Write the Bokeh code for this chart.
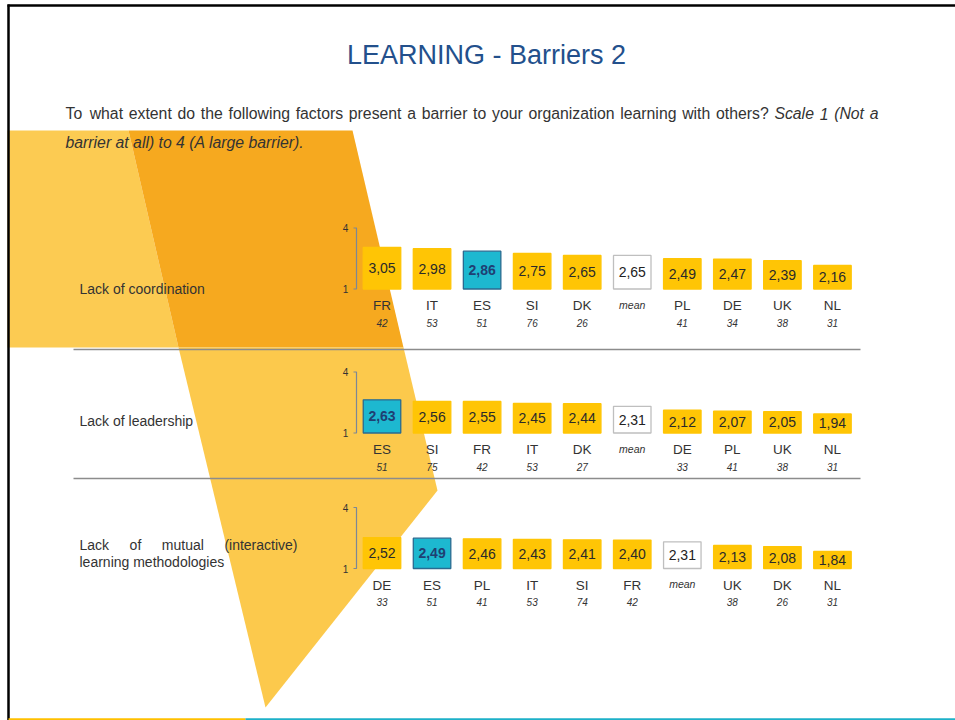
from bokeh.plotting import figure
from bokeh.models import Range1d, ColumnDataSource
from bokeh.embed import file_html
from bokeh.resources import INLINE
from bokeh.core.properties import value

# ---------------- data ----------------
title_text = "LEARNING - Barriers 2"
question_text = "To what extent do the following factors present a barrier to your organization learning with others?"
scale_note_1 = "Scale 1 (Not a"
scale_note_2 = "barrier at all) to 4 (A large barrier)."

factors = ["Lack of coordination", "Lack of leadership",
           "Lack of mutual (interactive) learning methodologies"]

coord_countries = ["FR", "IT", "ES", "SI", "DK", "mean", "PL", "DE", "UK", "NL"]
coord_values = [3.05, 2.98, 2.86, 2.75, 2.65, 2.65, 2.49, 2.47, 2.39, 2.16]
coord_n = ["42", "53", "51", "76", "26", "", "41", "34", "38", "31"]

lead_countries = ["ES", "SI", "FR", "IT", "DK", "mean", "DE", "PL", "UK", "NL"]
lead_values = [2.63, 2.56, 2.55, 2.45, 2.44, 2.31, 2.12, 2.07, 2.05, 1.94]
lead_n = ["51", "75", "42", "53", "27", "", "33", "41", "38", "31"]

mutual_countries = ["DE", "ES", "PL", "IT", "SI", "FR", "mean", "UK", "DK", "NL"]
mutual_values = [2.52, 2.49, 2.46, 2.43, 2.41, 2.40, 2.31, 2.13, 2.08, 1.84]
mutual_n = ["33", "51", "41", "53", "74", "42", "", "38", "26", "31"]

scale_min, scale_max = 1, 4
highlight = "ES"

rows = [
    (coord_countries, coord_values, coord_n),
    (lead_countries, lead_values, lead_n),
    (mutual_countries, mutual_values, mutual_n),
]

# ---------------- layout / style ----------------
FONT = value("Liberation Sans")
TXT = "#333333"
YELLOW = "#FFC505"
CYAN = "#1DB8D0"
CYAN_LINE = "#2A6A90"
CYAN_TXT = "#1F3F73"
MEAN_LINE = "#BFBFBF"

baselines = [288.5, 432.5, 568.0]
scale_px = 61.0
col_x0 = 381.5
col_dx = 50.05
bar_w = 37.5

# Arial / Liberation Sans advance widths (1/1000 em)
AW = {' ': 278, '!': 278, '(': 333, ')': 333, ',': 278, '-': 333, '.': 278, '?': 556,
      'A': 667, 'B': 667, 'C': 722, 'D': 722, 'E': 667, 'F': 611, 'G': 778, 'H': 722,
      'I': 278, 'J': 500, 'K': 667, 'L': 556, 'M': 833, 'N': 722, 'O': 778, 'P': 667,
      'Q': 778, 'R': 722, 'S': 667, 'T': 611, 'U': 722, 'V': 667, 'W': 944, 'X': 667,
      'Y': 667, 'Z': 611, 'a': 556, 'b': 556, 'c': 500, 'd': 556, 'e': 556, 'f': 278,
      'g': 556, 'h': 556, 'i': 222, 'j': 222, 'k': 500, 'l': 222, 'm': 833, 'n': 556,
      'o': 556, 'p': 556, 'q': 556, 'r': 333, 's': 500, 't': 278, 'u': 556, 'v': 500,
      'w': 722, 'x': 500, 'y': 500, 'z': 500}


def text_width(s, size):
    return sum(AW.get(c, 556) for c in s) / 1000.0 * size


def justify(words, x0, x1, size):
    widths = [text_width(w, size) for w in words]
    gap = (x1 - x0 - sum(widths)) / (len(words) - 1)
    xs, x = [], x0
    for w in widths:
        xs.append(x)
        x += w + gap
    return xs


p = figure(width=955, height=720, x_range=Range1d(0, 955), y_range=Range1d(720, 0),
           output_backend="svg", toolbar_location=None,
           x_axis_location=None, y_axis_location=None, min_border=0)
p.min_border_left = p.min_border_right = p.min_border_top = p.min_border_bottom = 0
p.grid.visible = False
p.outline_line_color = None
p.background_fill_color = "white"
p.border_fill_color = "white"

# ---------------- decorative shapes ----------------
p.patch([7, 128, 178, 7], [130, 130, 347, 347], fill_color="#FCCB52", line_color=None)
p.patch([128, 352, 403, 178], [130, 130, 347, 347], fill_color="#F6A91F", line_color=None)
p.patch([178, 403, 437, 265], [347, 347, 490, 707], fill_color="#FCC94C", line_color=None)

# slide frame
p.line([8, 8], [4, 720], line_color="black", line_width=2.5)
p.line([7, 955], [5, 5], line_color="black", line_width=2.5)
p.line([8, 245], [719, 719], line_color="#FFC000", line_width=2.5)
p.line([245, 955], [719, 719], line_color="#1DB0C8", line_width=2.5)

# ---------------- title & question ----------------
p.text(x=[486], y=[54], text=[title_text], text_font=FONT, text_font_size="27px",
       text_color="#23508C", text_align="center", text_baseline="middle")

q_size = 15.8
normal_words = question_text.split(" ")
italic_words = scale_note_1.split(" ")
all_words = normal_words + italic_words
xs = justify(all_words, 65, 878, q_size)
p.text(x=xs[:len(normal_words)], y=[113] * len(normal_words), text=normal_words,
       text_font=FONT, text_font_size=f"{q_size}px", text_color=TXT,
       text_align="left", text_baseline="middle")
p.text(x=xs[len(normal_words):], y=[113] * len(italic_words), text=italic_words,
       text_font=FONT, text_font_size=f"{q_size}px", text_color=TXT,
       text_font_style="italic", text_align="left", text_baseline="middle")
p.text(x=[65], y=[142], text=[scale_note_2], text_font=FONT, text_font_size=f"{q_size}px",
       text_color=TXT, text_font_style="italic", text_align="left", text_baseline="middle")

# ---------------- row labels ----------------
p.text(x=[79], y=[288], text=[factors[0]], text_font=FONT, text_font_size="14px",
       text_color=TXT, text_align="left", text_baseline="middle")
p.text(x=[79], y=[420], text=[factors[1]], text_font=FONT, text_font_size="14px",
       text_color=TXT, text_align="left", text_baseline="middle")
lab3_words = factors[2].split(" ")
first_line = lab3_words[:4]
second_line = " ".join(lab3_words[4:])
xs3 = justify(first_line, 79, 297, 14)
p.text(x=xs3, y=[544] * len(first_line), text=first_line, text_font=FONT,
       text_font_size="14px", text_color=TXT, text_align="left", text_baseline="middle")
p.text(x=[79], y=[561], text=[second_line], text_font=FONT, text_font_size="14px",
       text_color=TXT, text_align="left", text_baseline="middle")

# separators
for ysep in (349, 478):
    p.line([73, 860], [ysep, ysep], line_color="#8C8C8C", line_width=1.5)

# ---------------- bars ----------------
for (countries, vals, ns), base in zip(rows, baselines):
    k = scale_px / (scale_max - scale_min)
    xs_c = [col_x0 + i * col_dx for i in range(len(countries))]
    tops = [base - (v - scale_min) * k for v in vals]
    fills, lines, tcols, tstyles = [], [], [], []
    for c in countries:
        if c == highlight:
            fills.append(CYAN); lines.append(CYAN_LINE); tcols.append(CYAN_TXT); tstyles.append("bold")
        elif c == "mean":
            fills.append("white"); lines.append(MEAN_LINE); tcols.append("#222222"); tstyles.append("normal")
        else:
            fills.append(YELLOW); lines.append(YELLOW); tcols.append("#2A2A2A"); tstyles.append("normal")
    src = ColumnDataSource(dict(
        x=xs_c, top=tops, bottom=[base] * len(vals), mid=[(t + base) / 2 for t in tops],
        fill=fills, line=lines, tcol=tcols, tstyle=tstyles,
        label=[f"{v:.2f}".replace(".", ",") for v in vals],
        country=[("" if c == "mean" else c) for c in countries],
        meanlab=[("mean" if c == "mean" else "") for c in countries],
        n=ns,
        ycountry=[base + 16.5] * len(vals), yn=[base + 33.5] * len(vals),
        ymean=[base + 15.5] * len(vals),
    ))
    p.vbar(x="x", top="top", bottom="bottom", width=bar_w, fill_color="fill",
           line_color="line", line_width=1.3, source=src)
    p.text(x="x", y="mid", text="label", text_color="tcol", text_font_style="tstyle",
           text_font=FONT, text_font_size="14px", text_align="center",
           text_baseline="middle", source=src)
    p.text(x="x", y="ycountry", text="country", text_color=TXT, text_font=FONT,
           text_font_size="13.5px", text_align="center", text_baseline="middle", source=src)
    p.text(x="x", y="yn", text="n", text_color=TXT, text_font=FONT, text_font_style="italic",
           text_font_size="10px", text_align="center", text_baseline="middle", source=src)
    p.text(x="x", y="ymean", text="meanlab", text_color=TXT, text_font=FONT,
           text_font_style="italic", text_font_size="10.5px", text_align="center",
           text_baseline="middle", source=src)
    # scale bracket 1..4
    top4 = base - scale_px
    p.line([353, 356, 356, 353], [top4, top4, base, base], line_color="#7C8796", line_width=1.2)
    p.text(x=[345, 345], y=[top4, base], text=[str(scale_max), str(scale_min)],
           text_color=TXT, text_font=FONT, text_font_size="10px",
           text_align="center", text_baseline="middle")

open("out.html", "w").write(file_html(p, INLINE))
